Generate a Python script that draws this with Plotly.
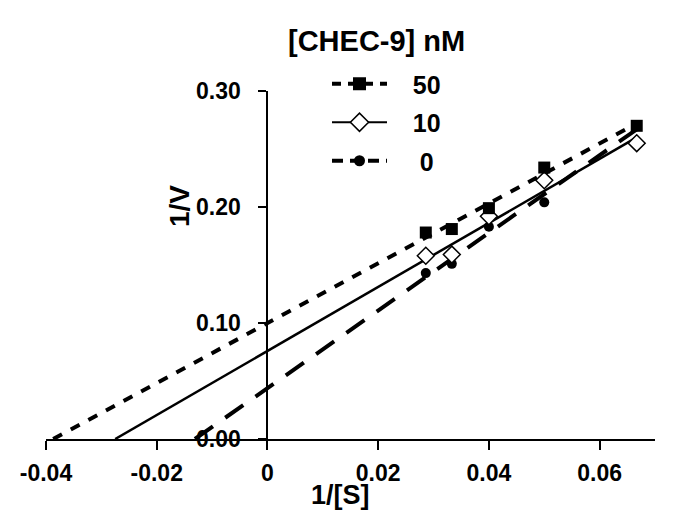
import plotly.graph_objects as go

# ---- data ----
inv_s = [0.0286, 0.0333, 0.0400, 0.0500, 0.0667]
v_50 = [0.178, 0.181, 0.199, 0.234, 0.270]
v_10 = [0.158, 0.159, 0.192, 0.223, 0.255]
v_0 = [0.143, 0.151, 0.183, 0.204, None]

# fitted lines (from x-intercept to last 1/[S])
fit50_x = [-0.0387, 0.0667]
fit50_y = [0.0, 0.272]
fit10_x = [-0.0275, 0.0667]
fit10_y = [0.0, 0.260]
fit0_x = [-0.0131, 0.0667]
fit0_y = [0.0, 0.267]

x_ticks = [-0.04, -0.02, 0, 0.02, 0.04, 0.06]
x_ticktext = ["-0.04", "-0.02", "0", "0.02", "0.04", "0.06"]
y_ticks = [0, 0.1, 0.2, 0.3]
y_ticktext = ["0.00", "0.10", "0.20", "0.30"]
legend_names = ["50", "10", "0"]

FONT = "Liberation Sans, Arial, sans-serif"
BLACK = "#000000"
NB = "\u00a0"

dash50 = "10px,10px"
dash0 = "22px,15px"

fig = go.Figure()

# fit lines
fig.add_trace(go.Scatter(x=fit50_x, y=fit50_y, mode="lines",
                         line=dict(color=BLACK, width=4, dash=dash50),
                         showlegend=False, hoverinfo="skip"))
fig.add_trace(go.Scatter(x=fit10_x, y=fit10_y, mode="lines",
                         line=dict(color=BLACK, width=2.5),
                         showlegend=False, hoverinfo="skip"))
fig.add_trace(go.Scatter(x=fit0_x, y=fit0_y, mode="lines",
                         line=dict(color=BLACK, width=4, dash=dash0),
                         showlegend=False, hoverinfo="skip"))

# data points
fig.add_trace(go.Scatter(x=inv_s, y=v_0, mode="markers",
                         marker=dict(symbol="circle", size=10, color=BLACK),
                         showlegend=False))
fig.add_trace(go.Scatter(x=inv_s, y=v_10, mode="markers",
                         marker=dict(symbol="diamond", size=13, color="white",
                                     line=dict(color=BLACK, width=1.5)),
                         showlegend=False))
fig.add_trace(go.Scatter(x=inv_s, y=v_50, mode="markers",
                         marker=dict(symbol="square", size=12, color=BLACK),
                         showlegend=False))

# legend entries
fig.add_trace(go.Scatter(x=[None], y=[None], mode="lines+markers", name=NB * 3 + legend_names[0],
                         line=dict(color=BLACK, width=4, dash="9px,7px"),
                         marker=dict(symbol="square", size=13, color=BLACK),
                         legendgroup="a"))
fig.add_trace(go.Scatter(x=[None], y=[None], mode="lines+markers", name=NB * 3 + legend_names[1],
                         line=dict(color=BLACK, width=2),
                         marker=dict(symbol="diamond", size=14, color="white",
                                     line=dict(color=BLACK, width=1.5)),
                         legendgroup="b"))
fig.add_trace(go.Scatter(x=[None], y=[None], mode="lines+markers", name=NB * 4 + legend_names[2],
                         line=dict(color=BLACK, width=4, dash="11px,7px"),
                         marker=dict(symbol="circle", size=11, color=BLACK),
                         legendgroup="c"))

# page body has an 8px default margin: figure is drawn offset by (8, 8)
OFF = 8
W, H = 685 - 2 * OFF, 519 - 2 * OFF
L, T = 46 - OFF, 91 - OFF
pw, ph = 609, 348
R = W - L - pw
B = H - T - ph
x0, x1 = -0.04, 0.07


def px(xp):
    return (xp - OFF - L) / pw


def py(yp):
    return (T + ph - (yp - OFF)) / ph


fig.update_layout(
    width=W, height=H,
    margin=dict(l=L, r=R, t=T, b=B, autoexpand=False),
    paper_bgcolor="white", plot_bgcolor="white",
    font=dict(family=FONT, color=BLACK, size=23, weight="bold"),
    showlegend=True,
    legend=dict(x=px(327), y=py(61), xanchor="left", yanchor="top",
                bgcolor="rgba(0,0,0,0)", font=dict(size=25, family=FONT, weight="bold"),
                itemwidth=55, tracegroupgap=3, traceorder="grouped"),
    xaxis=dict(range=[x0, x1], tickvals=x_ticks, ticktext=x_ticktext,
               showline=True, linecolor=BLACK, linewidth=2, ticks="outside",
               ticklen=9, tickwidth=2, tickcolor=BLACK, showgrid=False, zeroline=False,
               automargin=False, ticklabelstandoff=3,
               tickfont=dict(size=23, family=FONT, weight="bold")),
    yaxis=dict(range=[0, 0.30], tickvals=y_ticks, ticktext=y_ticktext,
               anchor="free", position=(0 - x0) / (x1 - x0),
               showline=True, linecolor=BLACK, linewidth=2, ticks="outside",
               ticklen=8, tickwidth=2, tickcolor=BLACK, showgrid=False, zeroline=False,
               automargin=False, ticklabelstandoff=13,
               tickfont=dict(size=23, family=FONT, weight="bold")),
    annotations=[
        dict(text="[CHEC-9] nM", x=px(376), y=py(41), xref="paper", yref="paper",
             showarrow=False, font=dict(size=29, family=FONT, weight="bold"),
             xanchor="center", yanchor="middle"),
        dict(text="1/[S]", x=px(340), y=py(511), xref="paper", yref="paper",
             showarrow=False, font=dict(size=27, family=FONT, weight="bold"),
             xanchor="center", yanchor="bottom", borderpad=0),
        dict(text="1/V", x=px(179), y=py(206), xref="paper", yref="paper",
             showarrow=False, textangle=-90, font=dict(size=28, family=FONT, weight="bold"),
             xanchor="center", yanchor="middle"),
    ],
)

fig.write_html("out.html")
